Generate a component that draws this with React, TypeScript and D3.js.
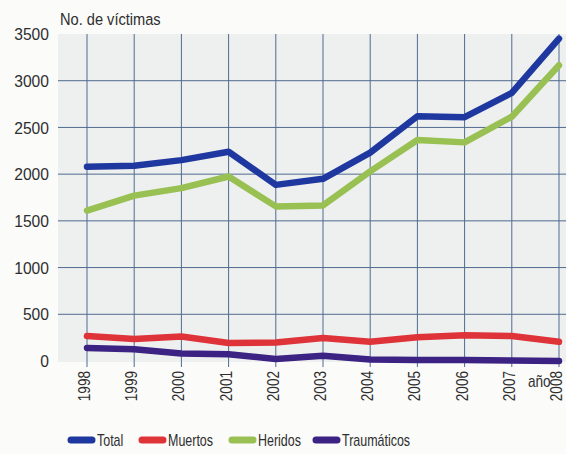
import React from "react";
import * as d3 from "d3";

// years on the x axis
const years = ["1998", "1999", "2000", "2001", "2002", "2003", "2004", "2005", "2006", "2007", "2008"];
const yTicks = [0, 500, 1000, 1500, 2000, 2500, 3000, 3500];

const total = [2080, 2090, 2150, 2240, 1885, 1950, 2230, 2620, 2610, 2870, 3450];
const muertos = [268, 235, 262, 192, 198, 245, 205, 255, 275, 268, 205];
const heridos = [1610, 1770, 1850, 1975, 1655, 1665, 2030, 2365, 2340, 2615, 3165];
const traumaticos = [140, 125, 80, 72, 22, 55, 15, 12, 10, 5, 0];

const series = [
  { name: "Total", values: total, color: "#1f38a0" },
  { name: "Muertos", values: muertos, color: "#de3339" },
  { name: "Heridos", values: heridos, color: "#98c052" },
  { name: "Traumáticos", values: traumaticos, color: "#3b2283" },
];

const drawOrder = ["Traumáticos", "Muertos", "Heridos", "Total"];

export default function App() {
  const width = 566;
  const height = 454;
  const left = 58;
  const top = 34;
  const bottom = 361;

  const x = d3.scalePoint<string>().domain(years).range([87, 559]);
  const y = d3.scaleLinear().domain([0, 3500]).range([bottom, top]);

  const line = d3
    .line<number>()
    .x((d, i) => x(years[i]) as number)
    .y((d) => y(d));

  const font = "'Liberation Sans', Arial, sans-serif";
  const textColor = "#2e2e2e";
  const gridColor = "#4f6a8f";

  // legend item positions (swatch start x)
  const legendX = [68, 139, 229, 313];

  return (
    <svg
      width={width}
      height={height}
      style={{ position: "absolute", left: 0, top: 0, background: "#fbfbfa" }}
      fontFamily={font}
    >
      <rect x={left} y={top} width={width - left} height={bottom - top + 1} fill="#eef0ef" />

      {yTicks
        .filter((t) => t > 0 && t < 3500)
        .map((t) => (
          <line key={t} x1={left} x2={width} y1={y(t)} y2={y(t)} stroke={gridColor} strokeWidth={1} />
        ))}

      {years.map((yr) => (
        <line
          key={yr}
          x1={x(yr)}
          x2={x(yr)}
          y1={top}
          y2={bottom + 6}
          stroke={gridColor}
          strokeWidth={1}
        />
      ))}

      {yTicks.map((t) => (
        <text
          key={t}
          transform={`translate(49,${y(t)}) scale(0.92,1)`}
          dy="0.36em"
          textAnchor="end"
          fontSize={17}
          fill={textColor}
        >
          {t}
        </text>
      ))}

      <text transform="translate(60,25) scale(0.86,1)" fontSize={17} fill={textColor}>
        No. de víctimas
      </text>

      {years.map((yr) => (
        <text
          key={yr}
          transform={`translate(${(x(yr) as number) + 3},${bottom + 10}) rotate(-90) scale(0.85,1)`}
          textAnchor="end"
          fontSize={16}
          fill={textColor}
        >
          {yr}
        </text>
      ))}

      <text transform="translate(528,387) scale(0.85,1)" fontSize={16} fill={textColor}>
        año
      </text>

      {drawOrder.map((name) => {
        const s = series.find((d) => d.name === name)!;
        return (
          <path
            key={name}
            d={line(s.values) || ""}
            fill="none"
            stroke={s.color}
            strokeWidth={6.5}
            strokeLinecap="round"
            strokeLinejoin="round"
          />
        );
      })}

      {series.map((s, i) => (
        <g key={s.name} transform={`translate(${legendX[i]},440)`}>
          <line x1={3} x2={24} y1={0} y2={0} stroke={s.color} strokeWidth={7} strokeLinecap="round" />
          <text transform="translate(29,0) scale(0.78,1)" dy="0.36em" fontSize={16} fill={textColor}>
            {s.name}
          </text>
        </g>
      ))}
    </svg>
  );
}
